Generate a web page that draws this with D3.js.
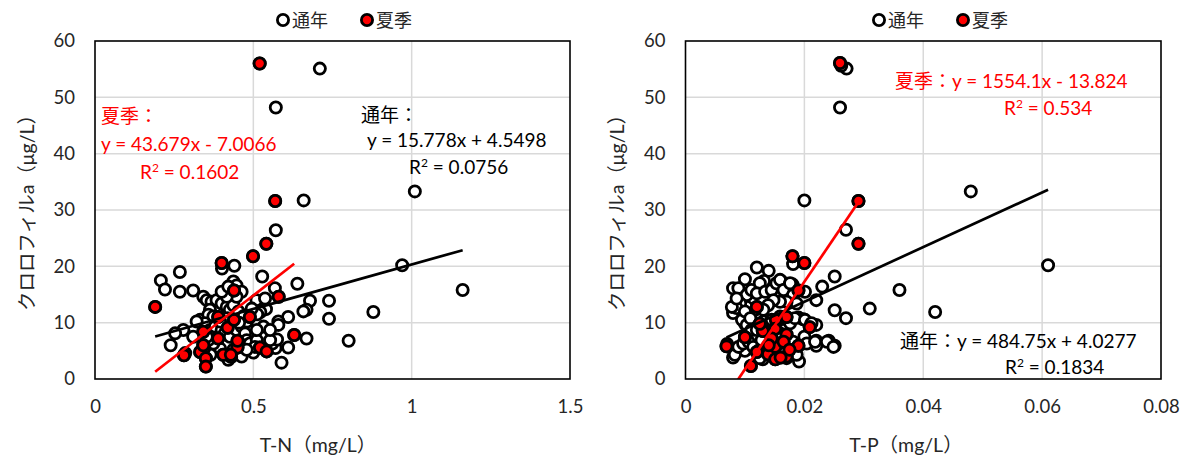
<!DOCTYPE html>
<html>
<head>
<meta charset="utf-8">
<script src="https://cdn.jsdelivr.net/npm/d3@7"></script>
<style>
  html, body { margin: 0; padding: 0; background: #fff; }
  svg { display: block; font-family: "Lato", "Noto Sans CJK JP", sans-serif; }
</style>
</head>
<body>
<svg id="chart" width="1188" height="459"></svg>
<script>
// ---- Data: chlorophyll-a vs total nitrogen / total phosphorus ----
const seriesNames = ["通年", "夏季"];
const yTicks = [0, 10, 20, 30, 40, 50, 60];
const tnTicks = [0, 0.5, 1, 1.5];
const tpTicks = [0, 0.02, 0.04, 0.06, 0.08];

// T-N panel: samples outside summer (x = T-N mg/L, y = chl-a µg/L)
const tnOtherX = [0.710,0.571,1.010,0.659,0.571,0.401,0.440,0.970,0.268,0.208,0.221,0.268,0.310,0.342,0.437,0.447,0.463,0.528,0.568,0.639,0.679,0.739,0.739,0.879,0.801,1.161,0.668,0.658,0.610,0.579,0.579,0.532,0.540,0.522,0.512,0.510,0.537,0.532,0.668,0.610,0.589,0.570,0.560,0.575,0.279,0.253,0.239,0.285,0.332,0.421,0.463,0.500,0.353,0.368,0.384,0.400,0.416,0.426,0.437,0.453,0.363,0.358,0.374,0.347,0.363,0.379,0.400,0.410,0.426,0.447,0.463,0.474,0.479,0.468,0.489,0.511,0.505,0.479,0.437,0.395,0.374,0.358,0.447,0.416,0.400,0.421,0.321,0.310,0.353,0.511,0.553,0.553,0.365,0.345,0.480,0.495,0.470,0.455,0.418,0.395,0.430];
const tnOtherY = [55.1,48.2,33.3,31.7,26.4,19.6,20.1,20.2,19.0,17.5,15.9,15.5,15.7,14.6,17.3,16.6,15.5,18.2,16.1,16.9,13.9,13.9,10.7,11.9,6.8,15.8,12.3,12.0,11.0,10.2,9.6,13.1,12.4,11.9,11.5,14.0,14.3,9.3,7.2,5.6,2.9,5.5,6.3,7.0,8.7,8.1,6.0,4.6,10.5,3.4,4.0,4.7,14.0,13.7,14.0,13.4,12.8,12.3,13.1,12.0,12.3,11.4,11.1,9.9,8.7,9.3,8.7,8.1,7.5,8.7,9.3,8.1,6.9,6.0,6.3,6.9,5.7,5.2,5.2,5.4,6.3,6.9,14.6,14.6,15.5,16.4,10.2,7.5,7.5,8.7,6.9,8.7,4.3,5.5,10.2,12.5,11.2,10.0,10.8,10.2,3.9];
// T-N panel: summer samples
const tnSummerX = [0.520,0.569,0.541,0.499,0.400,0.439,0.580,0.190,0.489,0.629,0.521,0.542,0.281,0.342,0.332,0.350,0.350,0.342,0.389,0.389,0.419,0.439,0.450,0.450,0.405,0.429];
const tnSummerY = [56.0,31.6,24.0,21.8,20.6,15.7,14.6,12.8,11.0,7.8,5.6,4.9,4.2,8.4,4.8,3.7,2.2,6.0,7.2,11.0,9.1,10.5,5.6,6.8,4.3,4.3];

// T-P panel: samples outside summer (x = T-P mg/L, y = chl-a µg/L)
const tpOtherX = [0.0271,0.0262,0.0260,0.0480,0.0200,0.0270,0.0181,0.0610,0.0120,0.0140,0.0251,0.0100,0.0132,0.0161,0.0180,0.0230,0.0080,0.0360,0.0201,0.0220,0.0310,0.0420,0.0251,0.0270,0.0080,0.0190,0.0198,0.0220,0.0100,0.0200,0.0220,0.0220,0.0241,0.0251,0.0070,0.0080,0.0100,0.0130,0.0191,0.0089,0.0095,0.0103,0.0111,0.0125,0.0120,0.0134,0.0145,0.0153,0.0159,0.0165,0.0176,0.0181,0.0187,0.0170,0.0159,0.0148,0.0139,0.0131,0.0117,0.0103,0.0092,0.0086,0.0095,0.0103,0.0111,0.0120,0.0131,0.0145,0.0159,0.0153,0.0165,0.0176,0.0184,0.0201,0.0212,0.0204,0.0218,0.0238,0.0249,0.0080,0.0083,0.0089,0.0097,0.0106,0.0114,0.0125,0.0131,0.0139,0.0142,0.0156,0.0165,0.0176,0.0187,0.0170,0.0125,0.0078,0.0086,0.0100,0.0109,0.0148,0.0139,0.0128,0.0181,0.0159];
const tpOtherY = [55.1,55.6,48.2,33.3,31.7,26.5,20.4,20.2,19.8,19.2,18.2,17.7,17.4,17.4,16.8,16.4,16.1,15.8,15.5,14.0,12.5,11.9,12.2,10.8,11.7,10.9,10.6,9.6,9.8,7.5,6.8,5.9,6.8,5.9,6.2,3.8,5.0,3.5,3.1,16.1,14.3,14.9,15.8,17.0,15.2,15.5,15.8,17.0,17.6,15.8,17.0,14.9,13.4,13.7,13.7,14.0,13.1,12.3,12.3,12.8,13.4,12.6,10.5,9.6,8.7,8.7,10.2,10.5,11.1,9.6,8.7,9.9,10.8,10.5,9.9,6.3,6.6,6.6,5.7,5.2,4.3,5.7,6.3,6.6,5.7,5.2,4.3,4.6,5.7,5.5,4.6,5.2,4.3,3.7,3.7,12.8,14.3,12.0,10.8,8.7,7.8,6.9,6.6,8.1];
// T-P panel: summer samples
const tpSummerX = [0.0260,0.0291,0.0291,0.0180,0.0200,0.0190,0.0120,0.0170,0.0152,0.0209,0.0170,0.0130,0.0100,0.0069,0.0190,0.0120,0.0139,0.0151,0.0151,0.0170,0.0110,0.0151,0.0165,0.0145,0.0175,0.0140,0.0160,0.0125];
const tpSummerY = [56.1,31.6,24.0,21.8,20.6,15.7,12.8,11.0,10.5,9.2,7.9,8.5,7.4,5.8,5.9,4.8,4.4,3.5,5.7,4.0,2.3,8.9,6.6,7.2,5.2,6.0,3.8,9.8];

// Linear fits (slope, intercept, R²)
const tnFitAll = [15.778, 4.5498, 0.0756];
const tnFitSummer = [43.679, -7.0066, 0.1602];
const tpFitAll = [484.75, 4.0277, 0.1834];
const tpFitSummer = [1554.1, -13.824, 0.534];

const svg = d3.select("#chart");
const TEXT = "#262626";
const MARK_R = 5.6;
const MARK_W = 2.8;

function fmtSigned(b) {
  return b < 0 ? "- " + Math.abs(b) : "+ " + b;
}

function drawPanel(p) {
  const g = svg.append("g");
  const x = d3.scaleLinear().domain(p.xDomain).range([p.left, p.right]);
  const y = d3.scaleLinear().domain([0, 60]).range([p.bottom, p.top]);

  const clipId = "clip-" + p.id;
  svg.append("clipPath").attr("id", clipId)
    .append("rect").attr("x", p.left).attr("y", p.top)
    .attr("width", p.right - p.left).attr("height", p.bottom - p.top);

  // gridlines
  g.append("g").selectAll("line").data(yTicks.slice(1, -1)).join("line")
    .attr("x1", p.left).attr("x2", p.right)
    .attr("y1", d => y(d)).attr("y2", d => y(d))
    .attr("stroke", "#d9d9d9").attr("stroke-width", 1.5);
  g.append("g").selectAll("line").data(p.xTicks.slice(1, -1)).join("line")
    .attr("y1", p.top).attr("y2", p.bottom)
    .attr("x1", d => x(d)).attr("x2", d => x(d))
    .attr("stroke", "#d9d9d9").attr("stroke-width", 1.5);

  // axes (tick labels only)
  const ya = g.append("g").attr("transform", `translate(${p.left},0)`)
    .call(d3.axisLeft(y).tickValues(yTicks).tickSize(0).tickPadding(20).tickFormat(d3.format("d")));
  const xa = g.append("g").attr("transform", `translate(0,${p.bottom})`)
    .call(d3.axisBottom(x).tickValues(p.xTicks).tickSize(0).tickPadding(21).tickFormat(d => String(d)));
  [ya, xa].forEach(a => {
    a.select(".domain").remove();
    a.selectAll("text").attr("fill", TEXT).style("font-size", "18.5px")
      .style("font-family", "Lato, 'Noto Sans CJK JP', sans-serif");
  });

  // points
  const all = p.otherX.map((v, i) => [v, p.otherY[i]])
    .concat(p.summerX.map((v, i) => [v, p.summerY[i]]));
  const summer = p.summerX.map((v, i) => [v, p.summerY[i]]);
  const pts = g.append("g");
  pts.selectAll("circle.all").data(all).join("circle")
    .attr("class", "all")
    .attr("cx", d => x(d[0])).attr("cy", d => y(d[1])).attr("r", MARK_R)
    .attr("fill", "#fff").attr("stroke", "#000").attr("stroke-width", MARK_W);
  pts.selectAll("circle.summer").data(summer).join("circle")
    .attr("class", "summer")
    .attr("cx", d => x(d[0])).attr("cy", d => y(d[1])).attr("r", MARK_R)
    .attr("fill", "#ff0000").attr("stroke", "#000").attr("stroke-width", MARK_W);

  // trend lines over each series' x range
  const lineGen = d3.line().x(d => x(d[0])).y(d => y(d[1]));
  function trend(xs, fit, color) {
    const [lo, hi] = d3.extent(xs);
    const dpts = [lo, hi].map(v => [v, fit[0] * v + fit[1]]);
    g.append("path").datum(dpts).attr("d", lineGen)
      .attr("clip-path", `url(#${clipId})`)
      .attr("fill", "none").attr("stroke", color).attr("stroke-width", 2.7);
  }
  trend(all.map(d => d[0]), p.fitAll, "#000");
  trend(p.summerX, p.fitSummer, "#ff0000");

  // plot-area border
  g.append("rect").attr("x", p.left).attr("y", p.top)
    .attr("width", p.right - p.left).attr("height", p.bottom - p.top)
    .attr("fill", "none").attr("stroke", "#000").attr("stroke-width", 1.6);

  // axis titles
  g.append("text").attr("x", p.xTitleX).attr("y", 452).attr("text-anchor", "middle")
    .attr("fill", TEXT).style("font-size", "19.5px").text(p.xTitle);
  g.append("text")
    .attr("transform", `translate(${p.yTitleX},${(p.top + p.bottom) / 2 - 2}) rotate(-90)`)
    .attr("text-anchor", "middle").attr("fill", TEXT).style("font-size", "19.5px")
    .text("クロロフィルa（μg/L）");

  // legend
  const lg = g.append("g");
  seriesNames.forEach((name, i) => {
    const lx = p.legendX + i * 84;
    lg.append("circle").attr("cx", lx).attr("cy", 20).attr("r", MARK_R)
      .attr("fill", i === 0 ? "#fff" : "#ff0000").attr("stroke", "#000").attr("stroke-width", MARK_W);
    lg.append("text").attr("x", lx + 9).attr("y", 26.5).attr("fill", TEXT)
      .style("font-size", "18px").text(name);
  });

  // equation labels
  p.labels.forEach(l => {
    g.append("text").attr("x", l.x).attr("y", l.y).attr("fill", l.color)
      .style("font-size", "19px").html(l.text);
  });
}

function r2Text(fit) {
  return `R<tspan dy="-7" style="font-size:12px">2</tspan><tspan dy="7"> = ${fit[2]}</tspan>`;
}

drawPanel({
  id: "tn", left: 95, right: 570, top: 41, bottom: 379,
  xDomain: [0, 1.5], xTicks: tnTicks,
  otherX: tnOtherX, otherY: tnOtherY, summerX: tnSummerX, summerY: tnSummerY,
  fitAll: tnFitAll, fitSummer: tnFitSummer,
  xTitle: "T-N（mg/L）", xTitleX: 318, yTitleX: 34, legendX: 283,
  labels: [
    { x: 101, y: 123, color: "#ff0000", text: "夏季：" },
    { x: 101, y: 151, color: "#ff0000", text: `y = ${tnFitSummer[0]}x ${fmtSigned(tnFitSummer[1])}` },
    { x: 140, y: 179, color: "#ff0000", text: r2Text(tnFitSummer) },
    { x: 361, y: 122, color: "#000", text: "通年：" },
    { x: 367, y: 147, color: "#000", text: `y = ${tnFitAll[0]}x ${fmtSigned(tnFitAll[1])}` },
    { x: 409, y: 174, color: "#000", text: r2Text(tnFitAll) }
  ]
});

drawPanel({
  id: "tp", left: 685.5, right: 1161, top: 41, bottom: 379,
  xDomain: [0, 0.08], xTicks: tpTicks,
  otherX: tpOtherX, otherY: tpOtherY, summerX: tpSummerX, summerY: tpSummerY,
  fitAll: tpFitAll, fitSummer: tpFitSummer,
  xTitle: "T-P（mg/L）", xTitleX: 906, yTitleX: 624, legendX: 879,
  labels: [
    { x: 895, y: 88, color: "#ff0000", text: `夏季：y = ${tpFitSummer[0]}x ${fmtSigned(tpFitSummer[1])}` },
    { x: 1004, y: 115, color: "#ff0000", text: r2Text(tpFitSummer) },
    { x: 900, y: 348, color: "#000", text: `通年：y = ${tpFitAll[0]}x ${fmtSigned(tpFitAll[1])}` },
    { x: 1005, y: 374, color: "#000", text: r2Text(tpFitAll) }
  ]
});
</script>
</body>
</html>
